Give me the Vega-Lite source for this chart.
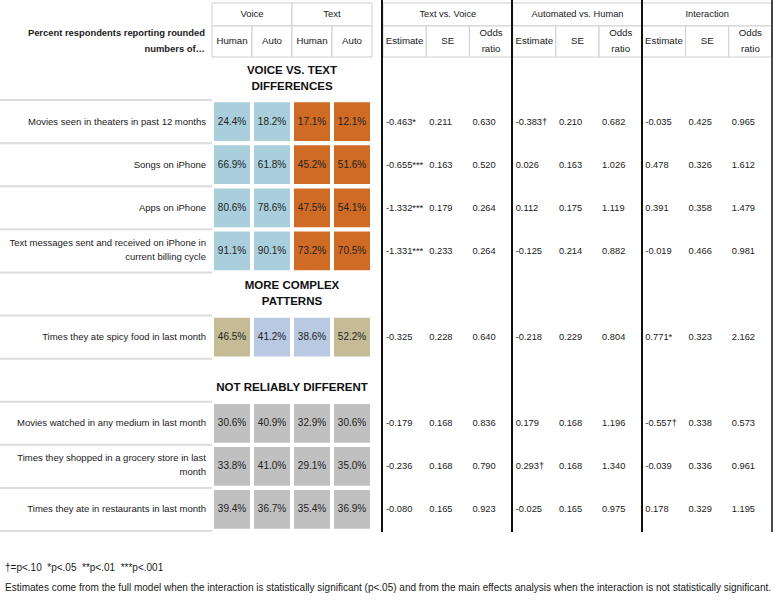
{
  "$schema": "https://vega.github.io/schema/vega-lite/v6.json",
  "width": 775,
  "height": 601,
  "padding": 0,
  "autosize": {"type": "none"},
  "background": "white",
  "config": {
    "view": {"stroke": null},
    "font": "Liberation Sans, Arial, sans-serif",
    "text": {"lineBreak": "\n", "font": "Liberation Sans, Arial, sans-serif", "color": "#1a1a1a"}
  },
  "datasets": {
    "rows": [
      {"row": "sec_voice", "kind": "section", "label": "VOICE VS. TEXT\nDIFFERENCES"},
      {"row": "movies_theaters", "kind": "item", "label": "Movies seen in theaters in past 12 months"},
      {"row": "songs", "kind": "item", "label": "Songs on iPhone"},
      {"row": "apps", "kind": "item", "label": "Apps on iPhone"},
      {"row": "texts", "kind": "item", "label": "Text messages sent and received on iPhone in\ncurrent billing cycle"},
      {"row": "sec_complex", "kind": "section", "label": "MORE COMPLEX\nPATTERNS"},
      {"row": "spicy", "kind": "item", "label": "Times they ate spicy food in last month"},
      {"row": "sec_notreliable", "kind": "section", "label": "\nNOT RELIABLY DIFFERENT"},
      {"row": "movies_any", "kind": "item", "label": "Movies watched in any medium in last month"},
      {"row": "grocery", "kind": "item", "label": "Times they shopped in a grocery store in last\nmonth"},
      {"row": "restaurants", "kind": "item", "label": "Times they ate in restaurants in last month"}
    ],
    "pct": [
      {"row": "movies_theaters", "col": "VH", "value": 0.244, "pattern": "voice"},
      {"row": "movies_theaters", "col": "VA", "value": 0.182, "pattern": "voice"},
      {"row": "movies_theaters", "col": "TH", "value": 0.171, "pattern": "text"},
      {"row": "movies_theaters", "col": "TA", "value": 0.121, "pattern": "text"},
      {"row": "songs", "col": "VH", "value": 0.669, "pattern": "voice"},
      {"row": "songs", "col": "VA", "value": 0.618, "pattern": "voice"},
      {"row": "songs", "col": "TH", "value": 0.452, "pattern": "text"},
      {"row": "songs", "col": "TA", "value": 0.516, "pattern": "text"},
      {"row": "apps", "col": "VH", "value": 0.806, "pattern": "voice"},
      {"row": "apps", "col": "VA", "value": 0.786, "pattern": "voice"},
      {"row": "apps", "col": "TH", "value": 0.475, "pattern": "text"},
      {"row": "apps", "col": "TA", "value": 0.541, "pattern": "text"},
      {"row": "texts", "col": "VH", "value": 0.911, "pattern": "voice"},
      {"row": "texts", "col": "VA", "value": 0.901, "pattern": "voice"},
      {"row": "texts", "col": "TH", "value": 0.732, "pattern": "text"},
      {"row": "texts", "col": "TA", "value": 0.705, "pattern": "text"},
      {"row": "spicy", "col": "VH", "value": 0.465, "pattern": "higher"},
      {"row": "spicy", "col": "VA", "value": 0.412, "pattern": "lower"},
      {"row": "spicy", "col": "TH", "value": 0.386, "pattern": "lower"},
      {"row": "spicy", "col": "TA", "value": 0.522, "pattern": "higher"},
      {"row": "movies_any", "col": "VH", "value": 0.306, "pattern": "none"},
      {"row": "movies_any", "col": "VA", "value": 0.409, "pattern": "none"},
      {"row": "movies_any", "col": "TH", "value": 0.329, "pattern": "none"},
      {"row": "movies_any", "col": "TA", "value": 0.306, "pattern": "none"},
      {"row": "grocery", "col": "VH", "value": 0.338, "pattern": "none"},
      {"row": "grocery", "col": "VA", "value": 0.410, "pattern": "none"},
      {"row": "grocery", "col": "TH", "value": 0.291, "pattern": "none"},
      {"row": "grocery", "col": "TA", "value": 0.350, "pattern": "none"},
      {"row": "restaurants", "col": "VH", "value": 0.394, "pattern": "none"},
      {"row": "restaurants", "col": "VA", "value": 0.367, "pattern": "none"},
      {"row": "restaurants", "col": "TH", "value": 0.354, "pattern": "none"},
      {"row": "restaurants", "col": "TA", "value": 0.369, "pattern": "none"}
    ],
    "stats": [
      {"row": "movies_theaters", "col": "tv_est", "text": "-0.463*"},
      {"row": "movies_theaters", "col": "tv_se", "text": "0.211"},
      {"row": "movies_theaters", "col": "tv_or", "text": "0.630"},
      {"row": "movies_theaters", "col": "ah_est", "text": "-0.383†"},
      {"row": "movies_theaters", "col": "ah_se", "text": "0.210"},
      {"row": "movies_theaters", "col": "ah_or", "text": "0.682"},
      {"row": "movies_theaters", "col": "in_est", "text": "-0.035"},
      {"row": "movies_theaters", "col": "in_se", "text": "0.425"},
      {"row": "movies_theaters", "col": "in_or", "text": "0.965"},
      {"row": "songs", "col": "tv_est", "text": "-0.655***"},
      {"row": "songs", "col": "tv_se", "text": "0.163"},
      {"row": "songs", "col": "tv_or", "text": "0.520"},
      {"row": "songs", "col": "ah_est", "text": "0.026"},
      {"row": "songs", "col": "ah_se", "text": "0.163"},
      {"row": "songs", "col": "ah_or", "text": "1.026"},
      {"row": "songs", "col": "in_est", "text": "0.478"},
      {"row": "songs", "col": "in_se", "text": "0.326"},
      {"row": "songs", "col": "in_or", "text": "1.612"},
      {"row": "apps", "col": "tv_est", "text": "-1.332***"},
      {"row": "apps", "col": "tv_se", "text": "0.179"},
      {"row": "apps", "col": "tv_or", "text": "0.264"},
      {"row": "apps", "col": "ah_est", "text": "0.112"},
      {"row": "apps", "col": "ah_se", "text": "0.175"},
      {"row": "apps", "col": "ah_or", "text": "1.119"},
      {"row": "apps", "col": "in_est", "text": "0.391"},
      {"row": "apps", "col": "in_se", "text": "0.358"},
      {"row": "apps", "col": "in_or", "text": "1.479"},
      {"row": "texts", "col": "tv_est", "text": "-1.331***"},
      {"row": "texts", "col": "tv_se", "text": "0.233"},
      {"row": "texts", "col": "tv_or", "text": "0.264"},
      {"row": "texts", "col": "ah_est", "text": "-0.125"},
      {"row": "texts", "col": "ah_se", "text": "0.214"},
      {"row": "texts", "col": "ah_or", "text": "0.882"},
      {"row": "texts", "col": "in_est", "text": "-0.019"},
      {"row": "texts", "col": "in_se", "text": "0.466"},
      {"row": "texts", "col": "in_or", "text": "0.981"},
      {"row": "spicy", "col": "tv_est", "text": "-0.325"},
      {"row": "spicy", "col": "tv_se", "text": "0.228"},
      {"row": "spicy", "col": "tv_or", "text": "0.640"},
      {"row": "spicy", "col": "ah_est", "text": "-0.218"},
      {"row": "spicy", "col": "ah_se", "text": "0.229"},
      {"row": "spicy", "col": "ah_or", "text": "0.804"},
      {"row": "spicy", "col": "in_est", "text": "0.771*"},
      {"row": "spicy", "col": "in_se", "text": "0.323"},
      {"row": "spicy", "col": "in_or", "text": "2.162"},
      {"row": "movies_any", "col": "tv_est", "text": "-0.179"},
      {"row": "movies_any", "col": "tv_se", "text": "0.168"},
      {"row": "movies_any", "col": "tv_or", "text": "0.836"},
      {"row": "movies_any", "col": "ah_est", "text": "0.179"},
      {"row": "movies_any", "col": "ah_se", "text": "0.168"},
      {"row": "movies_any", "col": "ah_or", "text": "1.196"},
      {"row": "movies_any", "col": "in_est", "text": "-0.557†"},
      {"row": "movies_any", "col": "in_se", "text": "0.338"},
      {"row": "movies_any", "col": "in_or", "text": "0.573"},
      {"row": "grocery", "col": "tv_est", "text": "-0.236"},
      {"row": "grocery", "col": "tv_se", "text": "0.168"},
      {"row": "grocery", "col": "tv_or", "text": "0.790"},
      {"row": "grocery", "col": "ah_est", "text": "0.293†"},
      {"row": "grocery", "col": "ah_se", "text": "0.168"},
      {"row": "grocery", "col": "ah_or", "text": "1.340"},
      {"row": "grocery", "col": "in_est", "text": "-0.039"},
      {"row": "grocery", "col": "in_se", "text": "0.336"},
      {"row": "grocery", "col": "in_or", "text": "0.961"},
      {"row": "restaurants", "col": "tv_est", "text": "-0.080"},
      {"row": "restaurants", "col": "tv_se", "text": "0.165"},
      {"row": "restaurants", "col": "tv_or", "text": "0.923"},
      {"row": "restaurants", "col": "ah_est", "text": "-0.025"},
      {"row": "restaurants", "col": "ah_se", "text": "0.165"},
      {"row": "restaurants", "col": "ah_or", "text": "0.975"},
      {"row": "restaurants", "col": "in_est", "text": "0.178"},
      {"row": "restaurants", "col": "in_se", "text": "0.329"},
      {"row": "restaurants", "col": "in_or", "text": "1.195"}
    ],
    "headLeft1": [{"key": "Voice"}, {"key": "Text"}],
    "headRight1": [{"key": "Text vs. Voice"}, {"key": "Automated vs. Human"}, {"key": "Interaction"}],
    "headLeft2": [
      {"col": "VH", "label": "Human"}, {"col": "VA", "label": "Auto"},
      {"col": "TH", "label": "Human"}, {"col": "TA", "label": "Auto"}
    ],
    "headRight2": [
      {"col": "tv_est", "label": "Estimate"}, {"col": "tv_se", "label": "SE"}, {"col": "tv_or", "label": "Odds\nratio"},
      {"col": "ah_est", "label": "Estimate"}, {"col": "ah_se", "label": "SE"}, {"col": "ah_or", "label": "Odds\nratio"},
      {"col": "in_est", "label": "Estimate"}, {"col": "in_se", "label": "SE"}, {"col": "in_or", "label": "Odds\nratio"}
    ],
    "groups": [{"g": "tv"}, {"g": "ah"}, {"g": "in"}],
    "notes": [
      {"line": "f1", "text": "†=p<.10\u00a0\u00a0*p<.05\u00a0\u00a0**p<.01\u00a0\u00a0***p<.001"},
      {"line": "f2", "text": "Estimates come from the full model when the interaction is statistically significant (p<.05) and from the main effects analysis when the interaction is not statistically significant."}
    ],
    "title": [{"t": "Percent respondents reporting rounded\nnumbers of…"}]
  },
  "resolve": {"scale": {"x": "independent", "y": "independent", "color": "independent"}},
  "layer": [
    {
      "data": {"name": "headLeft1"},
      "encoding": {
        "x": {"field": "key", "type": "nominal", "axis": null, "scale": {"type": "band", "domain": ["Voice", "Text"], "range": [212, 372], "paddingInner": 0, "paddingOuter": 0}},
        "y": {"datum": "h1", "type": "nominal", "axis": null, "scale": {"type": "band", "domain": ["h1"], "range": [3, 26], "paddingInner": 0, "paddingOuter": 0}}
      },
      "layer": [
        {"mark": {"type": "rect", "fill": "white", "stroke": "#cfcfcf", "strokeWidth": 1}},
        {"mark": {"type": "text", "fontSize": 9.5, "dy": -1}, "encoding": {"text": {"field": "key"}}}
      ]
    },
    {
      "data": {"name": "headRight1"},
      "encoding": {
        "x": {"field": "key", "type": "nominal", "sort": null, "axis": null, "scale": {"type": "band", "domain": ["Text vs. Voice", "Automated vs. Human", "Interaction"], "range": [383, 772], "paddingInner": 0, "paddingOuter": 0}},
        "y": {"datum": "h1", "type": "nominal", "axis": null, "scale": {"type": "band", "domain": ["h1"], "range": [3, 26], "paddingInner": 0, "paddingOuter": 0}}
      },
      "layer": [
        {"mark": {"type": "rect", "fill": "white", "stroke": "#cfcfcf", "strokeWidth": 1}},
        {"mark": {"type": "text", "fontSize": 9.3, "dy": -1}, "encoding": {"text": {"field": "key"}}}
      ]
    },
    {
      "data": {"name": "headLeft2"},
      "encoding": {
        "x": {"field": "col", "type": "nominal", "axis": null, "scale": {"type": "band", "domain": ["VH", "VA", "TH", "TA"], "range": [212, 372], "paddingInner": 0, "paddingOuter": 0}},
        "y": {"datum": "h2", "type": "nominal", "axis": null, "scale": {"type": "band", "domain": ["h2"], "range": [26, 57], "paddingInner": 0, "paddingOuter": 0}}
      },
      "layer": [
        {"mark": {"type": "rect", "fill": "white", "stroke": "#cfcfcf", "strokeWidth": 1}},
        {"mark": {"type": "text", "fontSize": 9.7, "dy": -1}, "encoding": {"text": {"field": "label"}}}
      ]
    },
    {
      "data": {"name": "headRight2"},
      "encoding": {
        "x": {"field": "col", "type": "nominal", "axis": null, "scale": {"type": "band", "domain": ["tv_est", "tv_se", "tv_or", "ah_est", "ah_se", "ah_or", "in_est", "in_se", "in_or"], "range": [383, 772], "paddingInner": 0, "paddingOuter": 0}},
        "y": {"datum": "h2", "type": "nominal", "axis": null, "scale": {"type": "band", "domain": ["h2"], "range": [26, 57], "paddingInner": 0, "paddingOuter": 0}}
      },
      "layer": [
        {"mark": {"type": "rect", "fill": "white", "stroke": "#cfcfcf", "strokeWidth": 1}},
        {
          "transform": [{"filter": "indexof(datum.label, '\\n') < 0"}],
          "mark": {"type": "text", "fontSize": 9.7, "dy": -1},
          "encoding": {"text": {"field": "label"}}
        },
        {
          "transform": [{"filter": "indexof(datum.label, '\\n') >= 0"}],
          "mark": {"type": "text", "fontSize": 9.7, "lineHeight": 16, "dy": -9},
          "encoding": {"text": {"field": "label"}}
        }
      ]
    },
    {
      "data": {"name": "title"},
      "mark": {"type": "text", "fontSize": 9.4, "fontWeight": "bold", "align": "right", "lineHeight": 16, "dx": -7, "dy": -9},
      "encoding": {
        "x": {"datum": 1, "type": "quantitative", "axis": null, "scale": {"domain": [0, 1], "range": [0, 212]}},
        "y": {"datum": "h2", "type": "nominal", "axis": null, "scale": {"type": "band", "domain": ["h2"], "range": [26, 57], "paddingInner": 0, "paddingOuter": 0}},
        "text": {"field": "t"}
      }
    },
    {
      "data": {"name": "rows"},
      "mark": {"type": "rule", "color": "#dcdcdc", "strokeWidth": 2},
      "encoding": {
        "x": {"datum": 0, "type": "quantitative", "axis": null, "scale": {"domain": [0, 1], "range": [0, 212]}},
        "x2": {"datum": 1},
        "y": {"field": "row", "type": "nominal", "axis": null, "bandPosition": 1, "scale": {"type": "band", "domain": ["sec_voice", "movies_theaters", "songs", "apps", "texts", "sec_complex", "spicy", "sec_notreliable", "movies_any", "grocery", "restaurants"], "range": [57, 531], "paddingInner": 0, "paddingOuter": 0}}
      }
    },
    {
      "data": {"name": "rows"},
      "transform": [{"filter": "datum.kind === 'item' && indexof(datum.label, '\\n') < 0"}],
      "mark": {"type": "text", "fontSize": 9.5, "align": "right", "dx": -6},
      "encoding": {
        "x": {"datum": 1, "type": "quantitative", "axis": null, "scale": {"domain": [0, 1], "range": [0, 212]}},
        "y": {"field": "row", "type": "nominal", "axis": null, "scale": {"type": "band", "domain": ["sec_voice", "movies_theaters", "songs", "apps", "texts", "sec_complex", "spicy", "sec_notreliable", "movies_any", "grocery", "restaurants"], "range": [57, 531], "paddingInner": 0, "paddingOuter": 0}},
        "text": {"field": "label"}
      }
    },
    {
      "data": {"name": "rows"},
      "transform": [{"filter": "datum.kind === 'item' && indexof(datum.label, '\\n') >= 0"}],
      "mark": {"type": "text", "fontSize": 9.5, "align": "right", "lineHeight": 14, "dx": -6, "dy": -8},
      "encoding": {
        "x": {"datum": 1, "type": "quantitative", "axis": null, "scale": {"domain": [0, 1], "range": [0, 212]}},
        "y": {"field": "row", "type": "nominal", "axis": null, "scale": {"type": "band", "domain": ["sec_voice", "movies_theaters", "songs", "apps", "texts", "sec_complex", "spicy", "sec_notreliable", "movies_any", "grocery", "restaurants"], "range": [57, 531], "paddingInner": 0, "paddingOuter": 0}},
        "text": {"field": "label"}
      }
    },
    {
      "data": {"name": "rows"},
      "transform": [{"filter": "datum.kind === 'section'"}],
      "mark": {"type": "text", "fontSize": 11.5, "fontWeight": "bold", "align": "center", "lineHeight": 16, "dy": -8, "color": "#111"},
      "encoding": {
        "x": {"datum": 0.5, "type": "quantitative", "axis": null, "scale": {"domain": [0, 1], "range": [212, 372]}},
        "y": {"field": "row", "type": "nominal", "axis": null, "scale": {"type": "band", "domain": ["sec_voice", "movies_theaters", "songs", "apps", "texts", "sec_complex", "spicy", "sec_notreliable", "movies_any", "grocery", "restaurants"], "range": [57, 531], "paddingInner": 0, "paddingOuter": 0}},
        "text": {"field": "label"}
      }
    },
    {
      "data": {"name": "pct"},
      "encoding": {
        "x": {"field": "col", "type": "nominal", "axis": null, "scale": {"type": "band", "domain": ["VH", "VA", "TH", "TA"], "range": [212, 372], "paddingInner": 0.1, "paddingOuter": 0.05}},
        "y": {"field": "row", "type": "nominal", "axis": null, "scale": {"type": "band", "domain": ["sec_voice", "movies_theaters", "songs", "apps", "texts", "sec_complex", "spicy", "sec_notreliable", "movies_any", "grocery", "restaurants"], "range": [57, 531], "paddingInner": 0.1, "paddingOuter": 0.05}}
      },
      "layer": [
        {
          "mark": {"type": "rect"},
          "encoding": {
            "color": {"field": "pattern", "type": "nominal", "legend": null, "scale": {"domain": ["voice", "text", "higher", "lower", "none"], "range": ["#a9cfdc", "#cf6b25", "#c5bc96", "#b9c9e2", "#c0c0c0"]}}
          }
        },
        {
          "mark": {"type": "text", "fontSize": 10, "color": "#222"},
          "encoding": {"text": {"field": "value", "type": "quantitative", "format": ".1%"}}
        }
      ]
    },
    {
      "data": {"name": "stats"},
      "mark": {"type": "text", "fontSize": 9.3, "align": "left", "dx": 3},
      "encoding": {
        "x": {"field": "col", "type": "nominal", "axis": null, "bandPosition": 0, "scale": {"type": "band", "domain": ["tv_est", "tv_se", "tv_or", "ah_est", "ah_se", "ah_or", "in_est", "in_se", "in_or"], "range": [383, 772], "paddingInner": 0, "paddingOuter": 0}},
        "y": {"field": "row", "type": "nominal", "axis": null, "scale": {"type": "band", "domain": ["sec_voice", "movies_theaters", "songs", "apps", "texts", "sec_complex", "spicy", "sec_notreliable", "movies_any", "grocery", "restaurants"], "range": [57, 531], "paddingInner": 0, "paddingOuter": 0}},
        "text": {"field": "text"}
      }
    },
    {
      "data": {"name": "groups"},
      "mark": {"type": "rule", "color": "#111", "strokeWidth": 2},
      "encoding": {
        "x": {"field": "g", "type": "nominal", "axis": null, "bandPosition": 0, "scale": {"type": "band", "domain": ["tv", "ah", "in"], "range": [382, 772], "paddingInner": 0, "paddingOuter": 0}},
        "y": {"datum": 0, "type": "quantitative", "axis": null, "scale": {"domain": [0, 1], "range": [0, 532]}},
        "y2": {"datum": 1}
      }
    },
    {
      "data": {"name": "groups"},
      "transform": [{"filter": "datum.g === 'in'"}],
      "mark": {"type": "rule", "color": "#111", "strokeWidth": 1.5},
      "encoding": {
        "x": {"field": "g", "type": "nominal", "axis": null, "bandPosition": 1, "scale": {"type": "band", "domain": ["tv", "ah", "in"], "range": [382, 772], "paddingInner": 0, "paddingOuter": 0}},
        "y": {"datum": 0, "type": "quantitative", "axis": null, "scale": {"domain": [0, 1], "range": [0, 532]}},
        "y2": {"datum": 1}
      }
    },
    {
      "data": {"name": "notes"},
      "mark": {"type": "text", "fontSize": 10, "align": "left"},
      "encoding": {
        "x": {"datum": 0, "type": "quantitative", "axis": null, "scale": {"domain": [0, 1], "range": [5, 775]}},
        "y": {"field": "line", "type": "nominal", "axis": null, "scale": {"type": "band", "domain": ["f1", "f2"], "range": [558, 598], "paddingInner": 0, "paddingOuter": 0}},
        "text": {"field": "text"}
      }
    }
  ]
}
